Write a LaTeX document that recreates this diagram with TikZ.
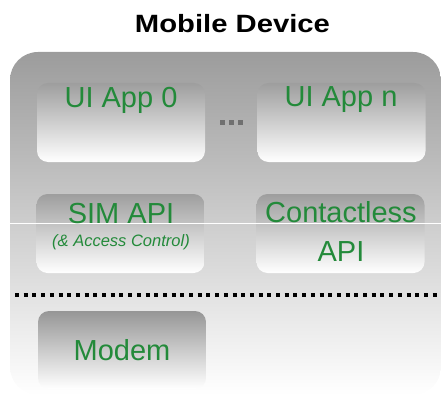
\documentclass[tikz,border=0pt]{standalone}
\usepackage{fontspec}
\setmainfont{Liberation Sans}
\definecolor{apptext}{RGB}{35,138,58}
\definecolor{devtop}{RGB}{156,156,156}
\definecolor{devmid}{RGB}{200,200,200}
\definecolor{boxtop}{RGB}{158,158,158}
\definecolor{dotgray}{RGB}{112,112,112}
\tikzset{
  layerbox/.style={rectangle, rounded corners=11pt, minimum width=168pt,
    minimum height=79pt, inner sep=0pt, top color=boxtop, bottom color=white},
  apptxt/.style={text=apptext, font=\fontsize{29}{31}\selectfont, inner sep=0pt},
  subtxt/.style={text=apptext, font=\itshape\fontsize{16.5}{18}\selectfont, inner sep=0pt},
  dotsq/.style={fill=dotgray, minimum size=5pt, inner sep=0pt},
}
\begin{document}
\begin{tikzpicture}[x=1pt, y=-1pt]
\useasboundingbox (0,0) rectangle (441,393);

% title
\node[font=\bfseries\fontsize{25}{27}\selectfont, inner sep=0pt] (title) at (232.5,23.5)
  {\scalebox{1.17}[1]{Mobile Device}};

% device body
\begin{scope}
  \clip (0,0) rectangle (441,393);
  \shade[top color=devtop, middle color=devmid, bottom color=white, rounded corners=28pt]
    (10,52) rectangle (441,395);
\end{scope}

% layers
\node[layerbox] (app0) at (121,122.5) {};
\node[layerbox] (appn) at (341.5,122.5) {};
\node[layerbox] (sim) at (120.5,233.5) {};
\node[layerbox] (nfc) at (340.5,233.5) {};
\node[layerbox, minimum height=78pt, top color=boxtop!95!black] (modem) at (122,350) {};

% separating highlight line
\coordinate (hlA) at (10,223);
\coordinate (hlB) at (441,223);
\draw[white, line width=1pt] (hlA) -- (hlB);

% ellipsis between the apps
\node[dotsq] (d1) at (222.5,122.5) {};
\node[dotsq] (d2) at (231.5,122.5) {};
\node[dotsq] (d3) at (240.5,122.5) {};

% labels
\node[apptxt] (t0) at (121,100) {UI App 0};
\node[apptxt] (tn) at (341,100) {UI App n};
\node[apptxt] (ts) at (121,213.5) {SIM API};
\node[subtxt] (tsa) at (121,242.5) {(\& Access Control)};
\node[apptxt] (tc) at (341,212.5) {Contactless};
\node[apptxt] (ta) at (341,251.5) {API};
\node[apptxt] (tm) at (122,350) {Modem};

% boundary between application side and modem
\coordinate (sepA) at (15,294.5);
\coordinate (sepB) at (441,294.5);
\draw[black, line width=4pt, dash pattern=on 4pt off 4.7pt] (sepA) -- (sepB);
\end{tikzpicture}
\end{document}
